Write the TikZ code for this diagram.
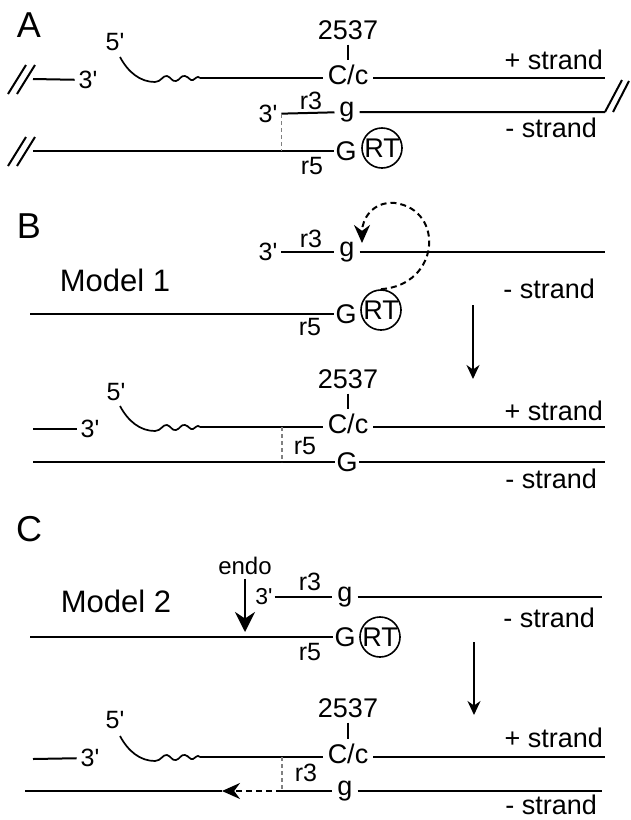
\documentclass[tikz,border=0pt]{standalone}
\usepackage{fontspec}
\setmainfont{Liberation Sans}
\usetikzlibrary{arrows.meta}
\tikzstyle{strand} = [line width=2pt]
\tikzstyle{lbl} = [font=\fontsize{27pt}{30pt}\selectfont, inner sep=0pt, outer sep=5pt]
\tikzstyle{base} = [lbl, outer sep=1.5pt]
\tikzstyle{small} = [font=\fontsize{25pt}{28pt}\selectfont, inner sep=0pt, outer sep=4pt]
\tikzstyle{panel} = [font=\fontsize{36pt}{40pt}\selectfont, inner sep=0pt]
\tikzstyle{model} = [font=\fontsize{31pt}{34pt}\selectfont, inner sep=0pt]
\tikzstyle{rt} = [circle, draw, line width=1.6pt, minimum size=40pt, inner sep=0pt, font=\fontsize{27pt}{30pt}\selectfont]
\tikzstyle{pair} = [gray, line width=1.1pt, dash pattern=on 4pt off 3pt]
\tikzstyle{loop} = [line width=2pt, dash pattern=on 6pt off 4pt, -{Stealth[length=18pt,width=16pt]}]
\tikzstyle{down} = [line width=2pt, -{Stealth[length=14pt,width=13pt]}]
\tikzstyle{cut} = [line width=2.6pt, -{Stealth[length=20pt,width=20pt]}]
\tikzset{
  tail/.pic={
    \draw[line width=1.7pt] (0,0) .. controls (8,15) and (20,25) .. (35,25)
      .. controls (41,25) and (43,18) .. (47,19) .. controls (51,20) and (52,25) .. (56,24)
      .. controls (60,23) and (61,18) .. (65,19) .. controls (69,20) and (70,24) .. (73,23)
      .. controls (76,22) and (77,18) .. (80,21);
    \coordinate (-end) at (80,21);
  },
  brk/.pic={
    \draw[line width=2pt] (-25,15) -- ++(18,-29) (-16,15) -- ++(18,-29);
  }
}

\begin{document}
\begin{tikzpicture}[x=1pt, y=-1pt]
\useasboundingbox (0,0) rectangle (630,820);

% A
\node[panel] (pA) at (29,25) {A};
\node[small] (A5) at (115,42) {5\textquotesingle};
\pic (At) at (120,57) {tail};
\node[small] (A3) at (88,80) {3\textquotesingle};
\coordinate (AbrkT) at (33,79);
\pic at (AbrkT) {brk};
\draw[strand] (AbrkT) -- (A3);
\node[lbl] (A2537) at (348,30) {2537};
\node[lbl] (Acc) at (348,75) {C/c};
\coordinate (Aend1) at (605,78);
\draw[strand] (A2537) -- (Acc);
\draw[strand] (At-end) -- (At-end -| Acc.west);
\draw[strand] (Acc.east |- Aend1) -- (Aend1);
\node[lbl, anchor=east] (Aplus) at (608,60) {+ strand};
\node[small] (Ar3end) at (268,114) {3\textquotesingle};
\node[small] (Ar3) at (311,101) {r3};
\node[lbl] (Ag) at (347,112) {g};
\coordinate (Aend2) at (605,112);
\draw[strand] (Ar3end) -- (Ag) -- (Aend2);
\draw[strand] (Aend2) -- ++(17,-32) (Aend2) ++(8,0) -- ++(16,-31);
\node[lbl, anchor=east] (Aminus) at (602,128) {- strand};
\coordinate (AbrkB) at (33,151);
\pic at (AbrkB) {brk};
\node[base] (AG) at (346,151) {G};
\node[rt] (ART) at (382,148) {RT};
\node[small] (Ar5) at (312,166) {r5};
\draw[strand] (AbrkB) -- (AG);
\draw[pair] (Ar3end.east) -- (Ar3end.east |- AG);

% B
\node[panel] (pB) at (29,226) {B};
\node[model] (mod1) at (115,280) {Model 1};
\node[small] (B3end) at (268,252) {3\textquotesingle};
\node[small] (Br3) at (311,239) {r3};
\node[lbl] (Bg) at (347,252) {g};
\coordinate (Bend1) at (605,252);
\draw[strand] (B3end) -- (Bg) -- (Bend1);
\node[lbl, anchor=east] (Bminus) at (600,289) {- strand};
\coordinate (Bstart) at (30,314);
\node[base] (BG) at (346,314) {G};
\node[rt] (BRT) at (381,310) {RT};
\node[small] (Br5) at (310,327) {r5};
\draw[strand] (Bstart) -- (BG);
\coordinate (Bloop) at (362,243);
\draw[loop] (BRT.north) .. controls (440,285) and (445,210) .. (395,203)
  .. controls (372,201) and (362,220) .. (Bloop);
\coordinate (BarrT) at (473,305);
\coordinate (BarrB) at (473,379);
\draw[down] (BarrT) -- (BarrB);

\node[lbl] (B2537) at (348,379) {2537};
\node[lbl] (Bcc) at (348,424) {C/c};
\draw[strand] (B2537) -- (Bcc);
\node[small] (B5) at (116,392) {5\textquotesingle};
\pic (Bt) at (120,406) {tail};
\node[small] (B3) at (90,429) {3\textquotesingle};
\coordinate (Bbrk) at (33,429);
\draw[strand] (Bbrk) -- (B3);
\coordinate (Bend2) at (605,427);
\draw[strand] (Bt-end) -- (Bt-end -| Bcc.west);
\draw[strand] (Bcc.east |- Bend2) -- (Bend2);
\node[lbl, anchor=east] (Bplus) at (608,411) {+ strand};
\node[small] (Br5b) at (305,446) {r5};
\coordinate (Bstart2) at (33,462);
\node[base] (BGb) at (347,462) {G};
\coordinate (Bend3) at (605,462);
\draw[strand] (Bstart2) -- (BGb) -- (Bend3);
\coordinate (Bpair) at (282,427);
\draw[pair] (Bpair) -- (Bpair |- BGb);
\node[lbl, anchor=east] (Bminus2) at (602,479) {- strand};

% C
\node[panel] (pC) at (29,529) {C};
\node[small, font=\fontsize{24pt}{26pt}\selectfont] (endo) at (245,566) {endo};
\coordinate (Ccut) at (245,632);
\draw[cut] (endo) -- (Ccut);
\node[small, font=\fontsize{23pt}{26pt}\selectfont, outer sep=2pt] (C3end) at (264,597) {3\textquotesingle};
\node[small] (Cr3) at (310,582) {r3};
\node[lbl] (Cg) at (345,597) {g};
\coordinate (Cend1) at (602,597);
\draw[strand] (C3end) -- (Cg) -- (Cend1);
\node[model] (mod2) at (116,601) {Model 2};
\node[lbl, anchor=east] (Cminus) at (600,618) {- strand};
\coordinate (Cstart) at (30,637);
\node[base] (CG) at (345,637) {G};
\node[rt] (CRT) at (380,637) {RT};
\node[small] (Cr5) at (310,652) {r5};
\draw[strand] (Cstart) -- (CG);
\coordinate (CarrT) at (474,642);
\coordinate (CarrB) at (474,715);
\draw[down] (CarrT) -- (CarrB);

\node[lbl] (C2537) at (348,708) {2537};
\node[lbl] (Ccc) at (348,754) {C/c};
\draw[strand] (C2537) -- (Ccc);
\node[small] (C5) at (115,720) {5\textquotesingle};
\pic (Ct) at (120,736) {tail};
\node[small] (C3) at (90,758) {3\textquotesingle};
\coordinate (Cbrk) at (33,759);
\draw[strand] (Cbrk) -- (C3);
\coordinate (Cend2) at (605,757);
\draw[strand] (Ct-end) -- (Ct-end -| Ccc.west);
\draw[strand] (Ccc.east |- Cend2) -- (Cend2);
\node[lbl, anchor=east] (Cplus) at (608,738) {+ strand};
\node[small] (Cr3b) at (306,773) {r3};
\coordinate (Cstart2) at (25,791);
\coordinate (Ctip) at (222,791);
\coordinate (Cnick) at (282,791);
\node[lbl] (Cgb) at (345,791) {g};
\coordinate (Cend3) at (602,791);
\draw[strand] (Cstart2) -- (Ctip);
\draw[loop] (Cnick) -- (Ctip);
\draw[strand] (Cnick) -- (Cgb) -- (Cend3);
\draw[pair] (Cnick |- Cend2) -- (Cnick);
\node[lbl, anchor=east] (Cminus2) at (602,805) {- strand};
\end{tikzpicture}
\end{document}
